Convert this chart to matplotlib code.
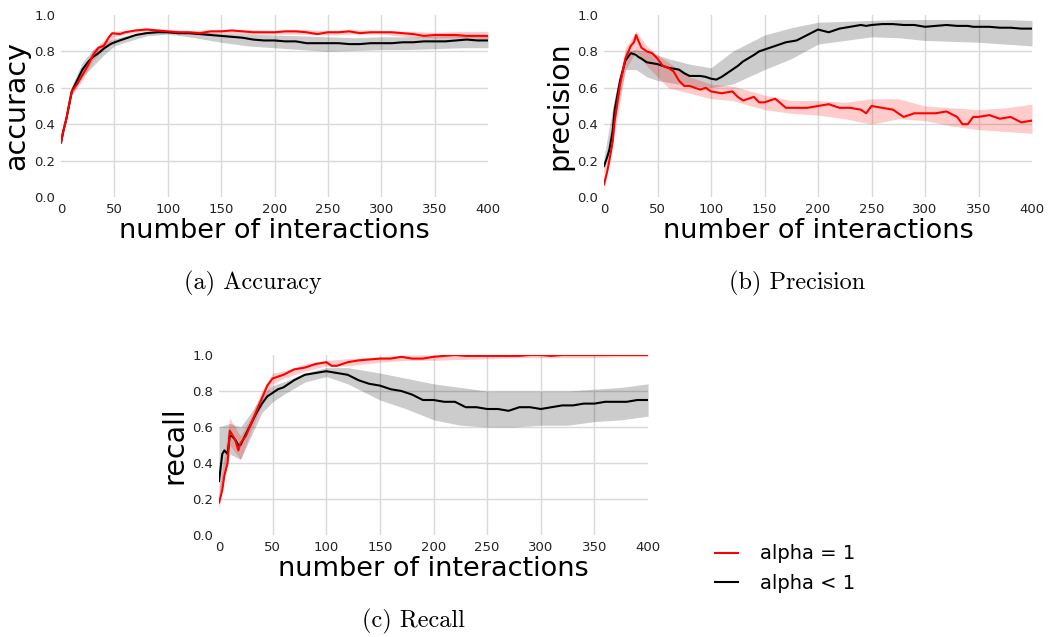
import matplotlib
matplotlib.use("Agg")
import matplotlib.pyplot as plt

# shared x positions for the shaded (std) bands
BAND_X = [0, 10, 20, 30, 40, 50, 60, 80, 100, 120, 150, 175, 200, 225, 250, 275, 300, 325, 350, 375, 400]

# (a) accuracy
ACC_X = [0, 2, 5, 8, 10, 15, 20, 25, 30, 35, 40, 45, 48, 55, 60, 70, 80, 90, 100, 110, 120, 130, 140,
         150, 160, 170, 180, 190, 200, 210, 220, 230, 240, 250, 260, 270, 280, 290, 300, 310, 320, 330,
         340, 350, 360, 370, 380, 390, 400]
ACC_RED = [0.30, 0.36, 0.43, 0.52, 0.58, 0.62, 0.67, 0.72, 0.78, 0.82, 0.83, 0.88, 0.90, 0.895, 0.905,
           0.915, 0.92, 0.915, 0.91, 0.905, 0.905, 0.90, 0.91, 0.91, 0.915, 0.91, 0.905, 0.905, 0.905,
           0.91, 0.91, 0.905, 0.895, 0.905, 0.905, 0.91, 0.90, 0.905, 0.905, 0.905, 0.90, 0.895, 0.885,
           0.89, 0.89, 0.89, 0.885, 0.885, 0.885]
ACC_BLACK = [0.30, 0.36, 0.43, 0.52, 0.58, 0.64, 0.70, 0.74, 0.77, 0.79, 0.815, 0.835, 0.845, 0.86, 0.87,
             0.89, 0.90, 0.905, 0.905, 0.90, 0.90, 0.895, 0.89, 0.885, 0.88, 0.875, 0.865, 0.86, 0.86,
             0.855, 0.855, 0.845, 0.845, 0.845, 0.845, 0.84, 0.84, 0.845, 0.845, 0.845, 0.85, 0.85,
             0.855, 0.855, 0.855, 0.86, 0.865, 0.86, 0.86]
ACC_BLACK_LO = [0.29, 0.56, 0.66, 0.72, 0.78, 0.83, 0.85, 0.885, 0.895, 0.88, 0.85, 0.83, 0.82, 0.81, 0.80,
                0.805, 0.81, 0.81, 0.815, 0.82, 0.82]
ACC_BLACK_HI = [0.32, 0.61, 0.74, 0.81, 0.85, 0.87, 0.885, 0.91, 0.915, 0.91, 0.90, 0.895, 0.89, 0.885,
                0.88, 0.875, 0.88, 0.88, 0.885, 0.89, 0.89]
ACC_RED_LO = [0.29, 0.56, 0.64, 0.75, 0.81, 0.88, 0.895, 0.91, 0.90, 0.895, 0.90, 0.895, 0.895, 0.895,
              0.89, 0.895, 0.895, 0.88, 0.875, 0.875, 0.87]
ACC_RED_HI = [0.31, 0.60, 0.70, 0.81, 0.86, 0.91, 0.915, 0.93, 0.92, 0.915, 0.92, 0.92, 0.915, 0.92,
              0.915, 0.92, 0.915, 0.91, 0.905, 0.91, 0.91]

# (b) precision
PREC_X = [0, 3, 5, 8, 10, 15, 20, 25, 28, 30, 32, 35, 40, 45, 50, 55, 60, 65, 70, 75, 80, 90, 95, 100,
          105, 110, 120, 125, 130, 140, 145, 150, 160, 170, 180, 190, 200, 210, 220, 230, 240, 245, 250,
          260, 270, 280, 290, 300, 310, 320, 330, 335, 340, 345, 350, 360, 370, 380, 390, 400]
PREC_RED = [0.07, 0.14, 0.20, 0.30, 0.42, 0.62, 0.76, 0.83, 0.85, 0.89, 0.86, 0.82, 0.80, 0.79, 0.76,
            0.72, 0.71, 0.69, 0.64, 0.61, 0.61, 0.59, 0.60, 0.58, 0.575, 0.57, 0.58, 0.55, 0.53, 0.55,
            0.52, 0.52, 0.54, 0.49, 0.49, 0.49, 0.50, 0.51, 0.49, 0.49, 0.48, 0.46, 0.50, 0.49, 0.48,
            0.44, 0.46, 0.46, 0.46, 0.47, 0.44, 0.40, 0.40, 0.44, 0.44, 0.45, 0.43, 0.44, 0.41, 0.42]
PREC_BLACK = [0.17, 0.22, 0.26, 0.36, 0.48, 0.64, 0.75, 0.79, 0.785, 0.78, 0.77, 0.76, 0.74, 0.735, 0.73,
              0.72, 0.71, 0.705, 0.70, 0.68, 0.665, 0.665, 0.66, 0.65, 0.645, 0.66, 0.70, 0.72, 0.745,
              0.78, 0.80, 0.81, 0.83, 0.85, 0.86, 0.89, 0.92, 0.905, 0.925, 0.935, 0.945, 0.94, 0.945,
              0.95, 0.95, 0.945, 0.945, 0.935, 0.94, 0.945, 0.94, 0.94, 0.94, 0.935, 0.935, 0.935, 0.93,
              0.93, 0.925, 0.925]
PREC_BLACK_LO = [0.12, 0.42, 0.70, 0.70, 0.66, 0.64, 0.63, 0.61, 0.60, 0.62, 0.70, 0.76, 0.84, 0.86, 0.88,
                 0.875, 0.86, 0.855, 0.85, 0.84, 0.83]
PREC_BLACK_HI = [0.22, 0.55, 0.80, 0.81, 0.80, 0.78, 0.76, 0.73, 0.71, 0.80, 0.89, 0.93, 0.96, 0.965, 0.97,
                 0.975, 0.975, 0.975, 0.975, 0.975, 0.97]
PREC_RED_LO = [0.04, 0.36, 0.70, 0.80, 0.72, 0.66, 0.60, 0.57, 0.54, 0.53, 0.48, 0.46, 0.45, 0.43, 0.40,
               0.43, 0.42, 0.39, 0.37, 0.36, 0.35]
PREC_RED_HI = [0.10, 0.48, 0.82, 0.91, 0.83, 0.78, 0.74, 0.66, 0.62, 0.61, 0.56, 0.53, 0.53, 0.52, 0.54,
               0.54, 0.50, 0.49, 0.48, 0.49, 0.51]

# (c) recall
REC_X = [0, 3, 5, 8, 10, 12, 15, 18, 20, 25, 30, 35, 40, 45, 50, 55, 60, 70, 80, 90, 100, 105, 110, 120,
         130, 140, 150, 160, 170, 180, 190, 200, 210, 220, 230, 240, 250, 260, 270, 280, 290, 300, 310,
         320, 330, 340, 350, 360, 370, 380, 390, 400]
REC_RED = [0.18, 0.25, 0.33, 0.40, 0.58, 0.56, 0.53, 0.47, 0.51, 0.55, 0.62, 0.69, 0.76, 0.83, 0.87, 0.88,
           0.89, 0.92, 0.93, 0.95, 0.96, 0.94, 0.94, 0.96, 0.97, 0.975, 0.98, 0.98, 0.99, 0.98, 0.98, 0.99,
           0.995, 1.0, 0.995, 0.995, 0.995, 0.995, 0.995, 0.995, 1.0, 1.0, 0.995, 1.0, 1.0, 1.0, 1.0, 1.0,
           1.0, 1.0, 1.0, 1.0]
REC_BLACK = [0.30, 0.45, 0.47, 0.45, 0.55, 0.55, 0.53, 0.50, 0.50, 0.56, 0.62, 0.68, 0.73, 0.77, 0.79,
             0.81, 0.82, 0.86, 0.89, 0.90, 0.91, 0.905, 0.90, 0.89, 0.86, 0.84, 0.83, 0.81, 0.80, 0.78,
             0.75, 0.75, 0.74, 0.74, 0.71, 0.71, 0.70, 0.70, 0.69, 0.71, 0.71, 0.70, 0.71, 0.72, 0.72,
             0.73, 0.73, 0.74, 0.74, 0.74, 0.75, 0.75]
REC_BLACK_LO = [0.22, 0.45, 0.42, 0.55, 0.68, 0.74, 0.78, 0.85, 0.88, 0.84, 0.75, 0.70, 0.64, 0.61, 0.60,
                0.60, 0.61, 0.61, 0.63, 0.64, 0.66]
REC_BLACK_HI = [0.60, 0.62, 0.60, 0.68, 0.78, 0.83, 0.85, 0.90, 0.93, 0.93, 0.90, 0.87, 0.84, 0.82, 0.80,
                0.80, 0.80, 0.80, 0.81, 0.82, 0.84]
REC_RED_LO = [0.14, 0.50, 0.42, 0.58, 0.72, 0.84, 0.87, 0.91, 0.94, 0.94, 0.96, 0.97, 0.97, 0.975, 0.98,
              0.985, 0.985, 0.985, 0.985, 0.99, 0.99]
REC_RED_HI = [0.24, 0.65, 0.55, 0.66, 0.80, 0.90, 0.91, 0.95, 0.97, 0.98, 0.99, 1.0, 1.0, 1.0, 1.0, 1.0,
              1.0, 1.0, 1.0, 1.0, 1.0]

LABELS = ["alpha = 1", "alpha < 1"]


def draw_panel(ax, xs, red, black, red_lo, red_hi, black_lo, black_hi, ylabel):
    ax.fill_between(BAND_X, black_lo, black_hi, color="black", alpha=0.2, lw=0)
    ax.fill_between(BAND_X, red_lo, red_hi, color="red", alpha=0.2, lw=0)
    ax.plot(xs, black, color="black", lw=1.5, label=LABELS[1])
    ax.plot(xs, red, color="red", lw=1.5, label=LABELS[0])
    ax.set_xlim(0, 400)
    ax.set_ylim(0, 1)
    ax.set_xticks(range(0, 401, 50))
    ax.set_yticks([0.0, 0.2, 0.4, 0.6, 0.8, 1.0])
    ax.grid(True, color="#d9d9d9", lw=1)
    ax.set_axisbelow(True)
    for s in ax.spines.values():
        s.set_visible(False)
    ax.tick_params(length=0, labelsize=9.5, colors="#222222", pad=4)
    # no grid line on the frame edges
    for g in (ax.get_xgridlines()[0], ax.get_xgridlines()[-1],
              ax.get_ygridlines()[0], ax.get_ygridlines()[-1]):
        g.set_visible(False)
    ax.set_xlabel("number of interactions", fontsize=19.5, labelpad=2)
    ax.set_ylabel(ylabel, fontsize=20.5, labelpad=3)


fig = plt.figure(figsize=(10.49, 6.37), dpi=100)

ax_a = fig.add_axes([0.0582, 0.6907, 0.407, 0.2858])
ax_b = fig.add_axes([0.5758, 0.6907, 0.408, 0.2858])
ax_c = fig.add_axes([0.2088, 0.1601, 0.409, 0.2826])

draw_panel(ax_a, ACC_X, ACC_RED, ACC_BLACK, ACC_RED_LO, ACC_RED_HI, ACC_BLACK_LO, ACC_BLACK_HI, "accuracy")
draw_panel(ax_b, PREC_X, PREC_RED, PREC_BLACK, PREC_RED_LO, PREC_RED_HI, PREC_BLACK_LO, PREC_BLACK_HI, "precision")
draw_panel(ax_c, REC_X, REC_RED, REC_BLACK, REC_RED_LO, REC_RED_HI, REC_BLACK_LO, REC_BLACK_HI, "recall")

cap = dict(fontsize=17.5, family=["cmr10", "DejaVu Serif"], ha="center", va="center")
fig.text(253 / 1049, 1 - 283 / 637, "(a) Accuracy", **cap)
fig.text(797 / 1049, 1 - 283 / 637, "(b) Precision", **cap)
fig.text(413 / 1049, 1 - 621 / 637, "(c) Recall", **cap)

h, l = ax_c.get_legend_handles_labels()
fig.legend(h[::-1], l[::-1], loc="center left", bbox_to_anchor=(0.665, 0.107), frameon=False,
           fontsize=14, handlelength=1.2, handletextpad=1.1, labelspacing=0.55)

plt.savefig("out.png", dpi=100)
